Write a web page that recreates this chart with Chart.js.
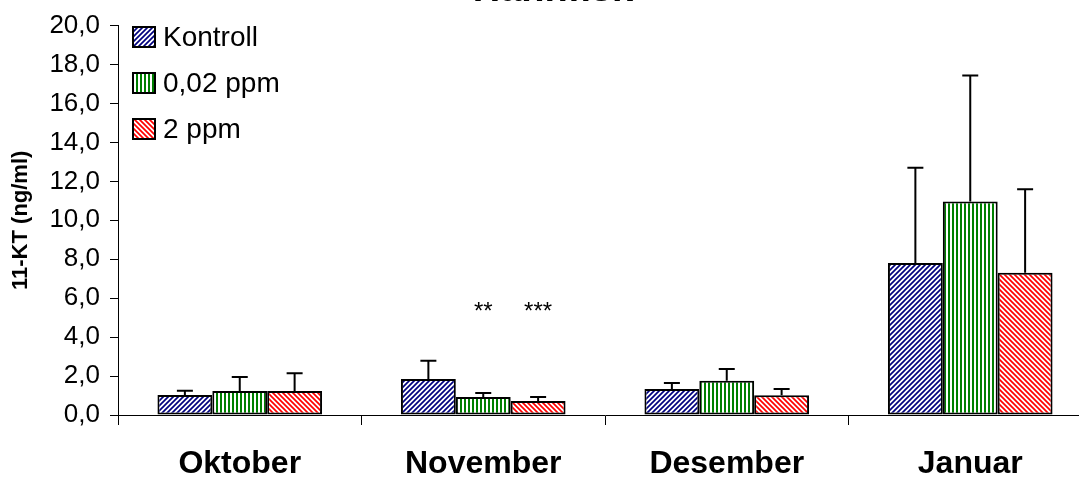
<!DOCTYPE html>
<html>
<head>
<meta charset="utf-8">
<script src="https://cdn.jsdelivr.net/npm/chart.js@4"></script>
<style>
  html, body { margin: 0; padding: 0; background: #fff; overflow: hidden; }
  #wrap { width: 1100px; height: 477px; position: relative; }
  canvas { display: block; }
</style>
</head>
<body>
<div id="wrap"><canvas id="c" width="1100" height="477"></canvas></div>
<script>
// 11-KT levels in male fish, mean with upward error bars
const categories = ['Oktober', 'November', 'Desember', 'Januar'];
const seriesNames = ['Kontroll', '0,02 ppm', '2 ppm'];

const kontroll = [1.03, 1.85, 1.33, 7.81];
const ppm002   = [1.23, 0.92, 1.76, 10.96];
const ppm2     = [1.23, 0.72, 1.01, 7.30];

const kontrollErr = [0.22, 0.93, 0.31, 4.89];
const ppm002Err   = [0.72, 0.21, 0.60, 6.48];
const ppm2Err     = [0.92, 0.20, 0.32, 4.30];

// significance marks per group
const kontrollSig = ['', '', '', ''];
const ppm002Sig   = ['', '**', '', ''];
const ppm2Sig     = ['', '***', '', ''];

const yTickLabels = ['0,0', '2,0', '4,0', '6,0', '8,0', '10,0', '12,0', '14,0', '16,0', '18,0', '20,0'];

const FONT = '"Liberation Sans", Arial, Helvetica, sans-serif';

function hatch(color, kind, size, lw) {
  const c = document.createElement('canvas');
  c.width = c.height = size;
  const g = c.getContext('2d');
  g.fillStyle = '#ffffff';
  g.fillRect(0, 0, size, size);
  g.strokeStyle = color;
  g.fillStyle = color;
  g.lineWidth = lw;
  if (kind === 'vert') {
    g.fillRect(0, 0, lw, size);
  } else {
    g.beginPath();
    if (kind === 'up') {
      g.moveTo(-1, size + 1); g.lineTo(size + 1, -1);
      g.moveTo(-1, 1); g.lineTo(1, -1);
      g.moveTo(size - 1, size + 1); g.lineTo(size + 1, size - 1);
    } else {
      g.moveTo(-1, -1); g.lineTo(size + 1, size + 1);
      g.moveTo(-1, size - 1); g.lineTo(1, size + 1);
      g.moveTo(size - 1, -1); g.lineTo(size + 1, 1);
    }
    g.stroke();
  }
  return g.createPattern(c, 'repeat');
}

const fills = [
  hatch('#000080', 'up', 5, 1.7),
  hatch('#008000', 'vert', 4, 2),
  hatch('#ff0000', 'down', 5, 1.7)
];

const values = [kontroll, ppm002, ppm2];
const errs = [kontrollErr, ppm002Err, ppm2Err];
const sigs = [kontrollSig, ppm002Sig, ppm2Sig];

const datasets = seriesNames.map((name, i) => ({
  label: name,
  data: values[i],
  errors: errs[i],
  marks: sigs[i],
  backgroundColor: fills[i],
  borderColor: '#000000',
  borderWidth: 2,
  borderSkipped: false,
  categoryPercentage: 0.676,
  barPercentage: 1.0
}));

// upward error bars with caps, and significance stars
const errorBars = {
  id: 'errorBars',
  afterDatasetsDraw(chart) {
    const { ctx, scales: { y } } = chart;
    ctx.save();
    ctx.strokeStyle = '#000000';
    ctx.lineWidth = 2;
    chart.data.datasets.forEach((ds, i) => {
      const meta = chart.getDatasetMeta(i);
      meta.data.forEach((bar, j) => {
        const top = y.getPixelForValue(ds.data[j] + ds.errors[j]);
        ctx.beginPath();
        ctx.moveTo(bar.x, bar.y);
        ctx.lineTo(bar.x, top);
        ctx.moveTo(bar.x - 8, top);
        ctx.lineTo(bar.x + 8, top);
        ctx.stroke();
        const m = ds.marks[j];
        if (m) {
          ctx.fillStyle = '#000000';
          ctx.font = '24px ' + FONT;
          ctx.textAlign = 'center';
          ctx.textBaseline = 'middle';
          ctx.fillText(m, bar.x, y.getPixelForValue(5.25));
        }
      });
    });
    ctx.restore();
  }
};

// legend in the upper left of the plot, and the heading at the top edge
const decorations = {
  id: 'decorations',
  afterDraw(chart) {
    const { ctx } = chart;
    ctx.save();
    chart.data.datasets.forEach((ds, i) => {
      const bx = 133, by = 27 + i * 46;
      ctx.fillStyle = ds.backgroundColor;
      ctx.fillRect(bx, by, 22, 20);
      ctx.strokeStyle = '#000000';
      ctx.lineWidth = 2;
      ctx.strokeRect(bx, by, 22, 20);
      ctx.fillStyle = '#000000';
      ctx.font = '28px ' + FONT;
      ctx.textAlign = 'left';
      ctx.textBaseline = 'middle';
      ctx.fillText(ds.label, 163, by + 11);
    });
    ctx.font = 'bold 38px ' + FONT;
    ctx.textAlign = 'center';
    ctx.textBaseline = 'alphabetic';
    ctx.fillText('Hannfisk', 553, 1);
    ctx.restore();
  }
};

new Chart(document.getElementById('c'), {
  type: 'bar',
  data: { labels: categories, datasets },
  plugins: [errorBars, decorations],
  options: {
    responsive: false,
    animation: false,
    devicePixelRatio: 1,
    layout: { padding: { left: 0, right: 8, top: 25, bottom: 0 } },
    plugins: { legend: { display: false }, tooltip: { enabled: false } },
    scales: {
      x: {
        type: 'category',
        offset: true,
        grid: { offset: true, drawOnChartArea: false, color: '#000000', tickLength: 10, lineWidth: 1 },
        border: { color: '#000000', width: 1 },
        ticks: { color: '#000000', font: { family: FONT, size: 32, weight: 'bold' }, padding: 20, maxRotation: 0 },
        afterFit(s) { s.height = 62; }
      },
      y: {
        min: 0,
        max: 20,
        ticks: {
          stepSize: 2,
          color: '#000000',
          padding: 10,
          font: { family: FONT, size: 26 },
          callback: (v, idx) => yTickLabels[idx]
        },
        grid: { drawOnChartArea: false, color: '#000000', tickLength: 8, lineWidth: 1 },
        border: { color: '#000000', width: 1 },
        title: {
          display: true,
          text: '11-KT (ng/ml)',
          color: '#000000',
          font: { family: FONT, size: 22, weight: 'bold' },
          padding: { top: 8, bottom: 0 }
        },
        afterFit(s) { s.width = 118; }
      }
    }
  }
});
</script>
</body>
</html>
